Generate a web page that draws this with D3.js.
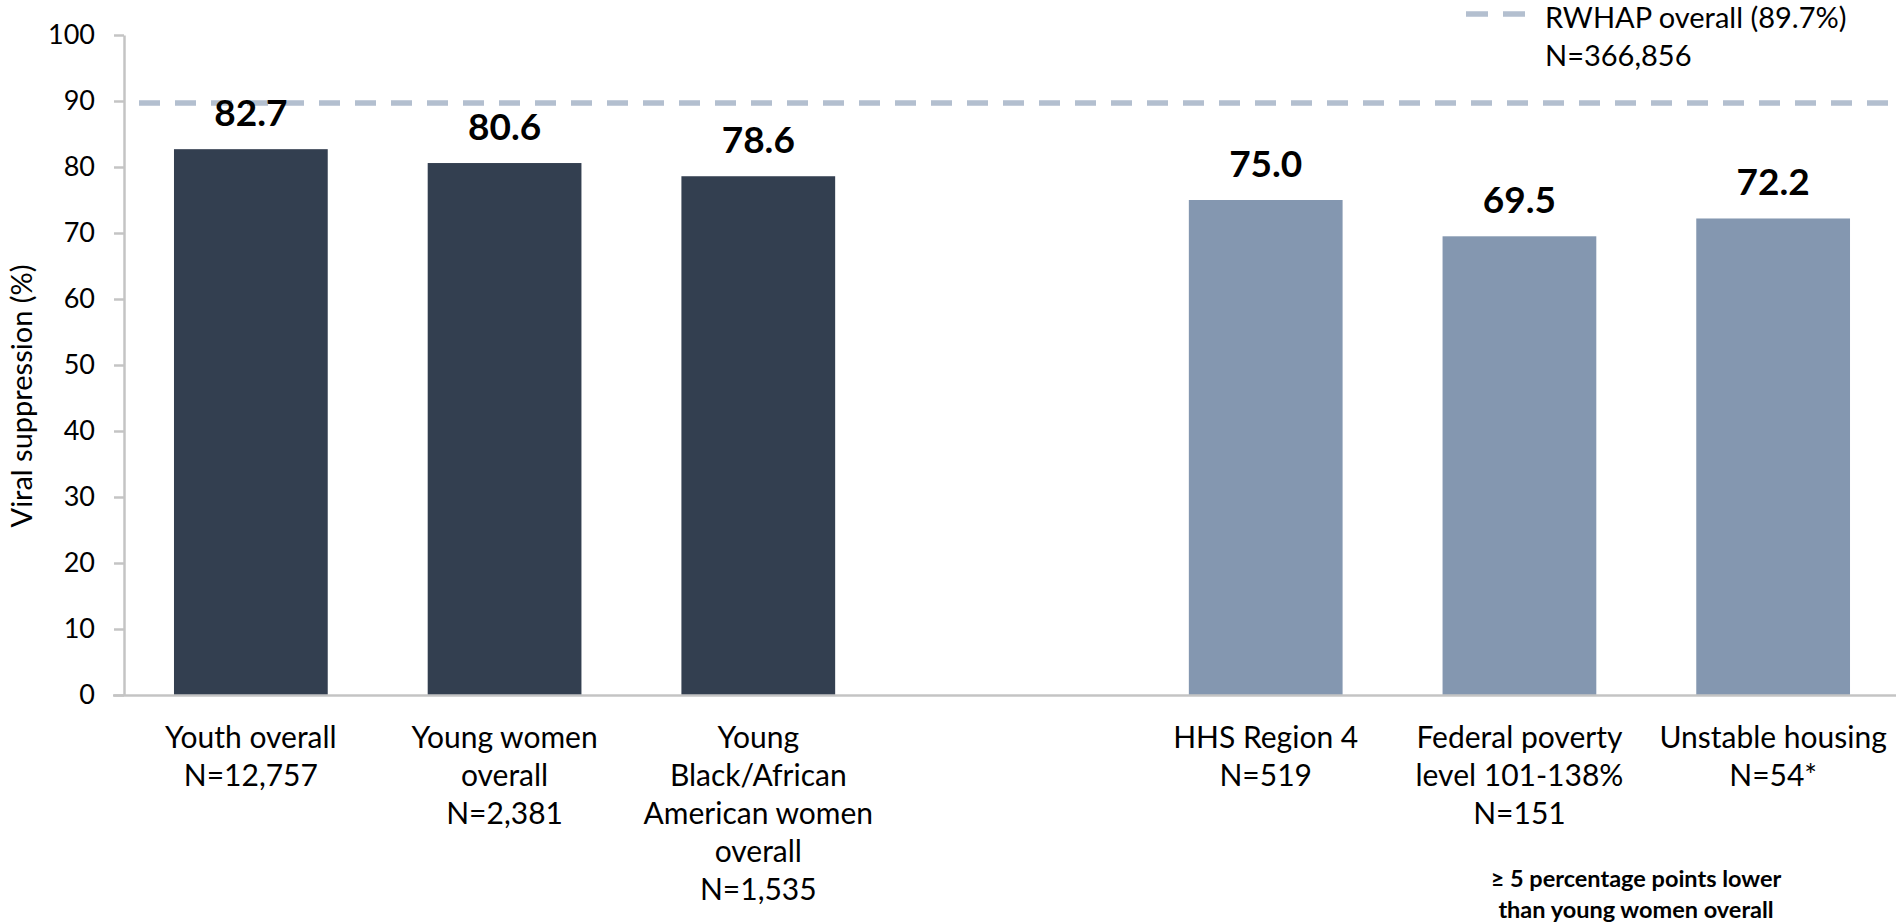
<!DOCTYPE html>
<html>
<head>
<meta charset="utf-8">
<script src="https://cdn.jsdelivr.net/npm/d3@7"></script>
<style>
  html, body { margin: 0; padding: 0; background: #ffffff; }
  svg { display: block; }
  text { font-family: Lato, "Noto Sans", sans-serif; fill: #000; }
</style>
</head>
<body>
<svg id="chart" width="1896" height="922"></svg>
<script>
// ---- data ----
const categoryLines = [
  ["Youth overall", "N=12,757"],
  ["Young women", "overall", "N=2,381"],
  ["Young", "Black/African", "American women", "overall", "N=1,535"],
  ["HHS Region 4", "N=519"],
  ["Federal poverty", "level 101-138%", "N=151"],
  ["Unstable housing", "N=54*"]
];
const values = [82.7, 80.6, 78.6, 75.0, 69.5, 72.2];
const groups = ["overall", "overall", "overall", "lower", "lower", "lower"];
const yTicks = [0, 10, 20, 30, 40, 50, 60, 70, 80, 90, 100];
const referenceValue = 89.7;
const legendLines = ["RWHAP overall (89.7%)", "N=366,856"];
const noteLines = ["\u2265 5 percentage points lower", "than young women overall"];
const yTitle = "Viral suppression (%)";

// ---- layout ----
const W = 1896, H = 922;
const plot = { left: 124, right: 1900, top: 35, bottom: 695 };
const colors = { overall: "#333f50", lower: "#8497b0" };
const axisColor = "#c4c4c4";
const refColor = "#b3bfcf";

const svg = d3.select("#chart");

const ids = values.map((_, i) => String(i));
const domain = [...ids.slice(0, 3), "gap", ...ids.slice(3)];
const x = d3.scaleBand().domain(domain).range([plot.left, plot.right])
  .paddingInner(0.394).paddingOuter(0.197);
const y = d3.scaleLinear().domain([0, 100]).range([plot.bottom, plot.top]);

// bars
svg.append("g").selectAll("rect").data(values).join("rect")
  .attr("x", (d, i) => x(String(i)))
  .attr("y", d => y(d))
  .attr("width", x.bandwidth())
  .attr("height", d => y(0) - y(d))
  .attr("fill", (d, i) => colors[groups[i]]);

// y axis
const yAxis = svg.append("g").attr("transform", `translate(${plot.left},0)`)
  .call(d3.axisLeft(y).tickValues(yTicks).tickSize(10).tickSizeOuter(0).tickPadding(19));
yAxis.select(".domain").attr("stroke", axisColor).attr("stroke-width", 2.5);
yAxis.selectAll(".tick line").attr("stroke", axisColor).attr("stroke-width", 2.5);
yAxis.selectAll(".tick text").attr("font-size", 27).attr("font-family", "Lato, sans-serif").attr("fill", "#000");

// x axis
const xAxis = svg.append("g").attr("transform", `translate(0,${plot.bottom + 0.5})`)
  .call(d3.axisBottom(x).tickValues(ids).tickSize(0).tickSizeOuter(0).tickFormat(""));
xAxis.select(".domain").remove();
xAxis.append("line").attr("x1", plot.left - 11).attr("x2", W).attr("y1", 0).attr("y2", 0)
  .attr("stroke", axisColor).attr("stroke-width", 2.5);
xAxis.selectAll(".tick").each(function(d) {
  const lines = categoryLines[+d];
  const t = d3.select(this).append("text")
    .attr("text-anchor", "middle").attr("font-size", 30).attr("fill", "#000");
  lines.forEach((ln, k) => {
    t.append("tspan").attr("x", 0).attr("y", 52 + k * 38).text(ln);
  });
});

// reference line
svg.append("line")
  .attr("x1", 139).attr("x2", W)
  .attr("y1", y(referenceValue)).attr("y2", y(referenceValue))
  .attr("stroke", refColor).attr("stroke-width", 5.5).attr("stroke-dasharray", "21,15");

// value labels
svg.append("g").selectAll("text").data(values).join("text")
  .attr("x", (d, i) => x(String(i)) + x.bandwidth() / 2)
  .attr("y", d => y(d) - 23)
  .attr("text-anchor", "middle")
  .attr("font-size", 37).attr("font-weight", "bold")
  .text(d => d.toFixed(1));

// y title
svg.append("text")
  .attr("transform", "translate(32,396) rotate(-90)")
  .attr("text-anchor", "middle").attr("font-size", 29)
  .text(yTitle);

// legend
svg.append("line").attr("x1", 1466).attr("x2", 1526).attr("y1", 14).attr("y2", 14)
  .attr("stroke", refColor).attr("stroke-width", 5.5).attr("stroke-dasharray", "22,15");
svg.append("g").selectAll("text").data(legendLines).join("text")
  .attr("x", 1545).attr("y", (d, i) => 28 + i * 38)
  .attr("font-size", 29).text(d => d);

// note
svg.append("g").selectAll("text").data(noteLines).join("text")
  .attr("x", 1636).attr("y", (d, i) => 887 + i * 31)
  .attr("text-anchor", "middle").attr("font-size", 23.5).attr("font-weight", "bold")
  .text(d => d);
</script>
</body>
</html>
